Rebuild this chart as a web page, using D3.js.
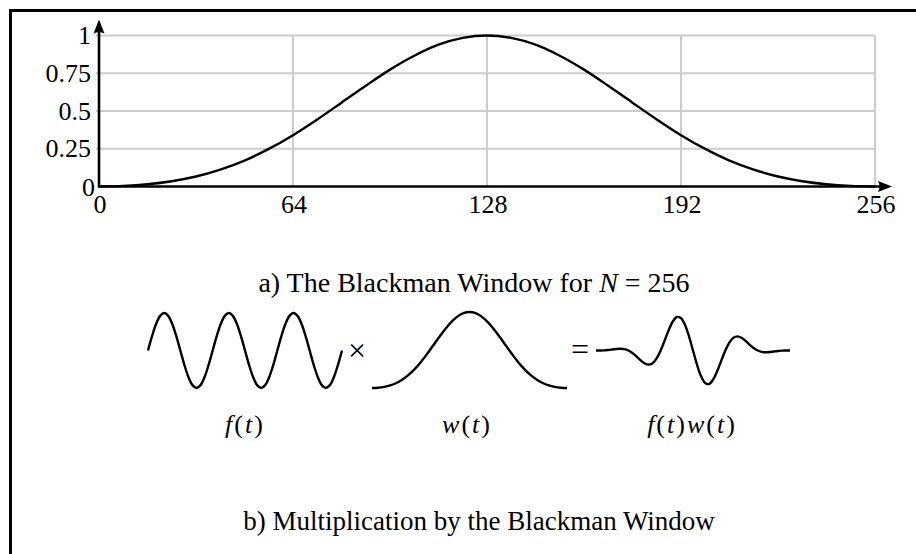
<!DOCTYPE html>
<html>
<head>
<meta charset="utf-8">
<script src="https://cdn.jsdelivr.net/npm/d3@7"></script>
<style>
  html, body { margin: 0; padding: 0; background: #fff; }
  svg { display: block; }
  text { font-family: "Liberation Serif", "DejaVu Serif", serif; fill: #000; }
</style>
</head>
<body>
<svg id="fig" width="916" height="554"></svg>
<script>
// ---- data -------------------------------------------------------------
// Blackman window, N = 256, sampled every 8 samples (n = 0, 8, ..., 256)
const windowN = [0, 8, 16, 24, 32, 40, 48, 56, 64, 72, 80, 88, 96, 104, 112, 120, 128,
                 136, 144, 152, 160, 168, 176, 184, 192, 200, 208, 216, 224, 232, 240, 248, 256];
const windowValues = [0.000, 0.004, 0.015, 0.035, 0.066, 0.112, 0.172, 0.249, 0.340,
                      0.444, 0.555, 0.667, 0.774, 0.866, 0.939, 0.984, 1.000,
                      0.984, 0.939, 0.866, 0.774, 0.667, 0.555, 0.444, 0.340,
                      0.249, 0.172, 0.112, 0.066, 0.035, 0.015, 0.004, 0.000];

const xTicks = [0, 64, 128, 192, 256];
const yTicks = [0, 0.25, 0.5, 0.75, 1];
const yTickLabels = ["0", "0.25", "0.5", "0.75", "1"];

// Sketch signals on t in [0, 1], 49 samples (step 1/48)
const sketchT = d3.range(49).map(k => k / 48);
const signalF = [0, 0.383, 0.707, 0.924, 1, 0.924, 0.707, 0.383,
                 0, -0.383, -0.707, -0.924, -1, -0.924, -0.707, -0.383,
                 0, 0.383, 0.707, 0.924, 1, 0.924, 0.707, 0.383,
                 0, -0.383, -0.707, -0.924, -1, -0.924, -0.707, -0.383,
                 0, 0.383, 0.707, 0.924, 1, 0.924, 0.707, 0.383,
                 0, -0.383, -0.707, -0.924, -1, -0.924, -0.707, -0.383, 0];
const signalFW = [0, 0.001, 0.004, 0.014, 0.027, 0.041, 0.047, 0.036,
                  0, -0.066, -0.156, -0.256, -0.340, -0.377, -0.340, -0.212,
                  0, 0.269, 0.547, 0.774, 0.893, 0.867, 0.687, 0.380,
                  0, -0.380, -0.687, -0.867, -0.893, -0.774, -0.547, -0.269,
                  0, 0.212, 0.340, 0.377, 0.340, 0.256, 0.156, 0.066,
                  0, -0.036, -0.047, -0.041, -0.027, -0.014, -0.004, -0.001, 0];

const captionA = ["a) The Blackman Window for ", "N", " = 256"];
const captionB = "b) Multiplication by the Blackman Window";

// ---- drawing ----------------------------------------------------------
const svg = d3.select("#fig");

// outer frame (only top and left edges fall inside the page)
svg.append("rect")
  .attr("x", 10.5).attr("y", 10.5).attr("width", 1000).attr("height", 1000)
  .attr("fill", "none").attr("stroke", "#000").attr("stroke-width", 3);

const x = d3.scaleLinear().domain([0, 256]).range([99, 875]);
const y = d3.scaleLinear().domain([0, 1]).range([186.5, 35.5]);

const grid = svg.append("g").attr("stroke", "#cccccc").attr("stroke-width", 2);
grid.selectAll("line.h").data(yTicks.filter(v => v > 0)).join("line")
  .attr("class", "h")
  .attr("x1", x(0) - 3).attr("x2", x(256))
  .attr("y1", d => y(d)).attr("y2", d => y(d));
grid.selectAll("line.v").data(xTicks.filter(v => v > 0)).join("line")
  .attr("class", "v")
  .attr("x1", d => x(d)).attr("x2", d => x(d))
  .attr("y1", y(1)).attr("y2", y(0));

// window curve
const line = d3.line()
  .x((d, i) => x(windowN[i]))
  .y(d => y(d))
  .curve(d3.curveCatmullRom.alpha(0.5));
svg.append("path")
  .datum(windowValues)
  .attr("d", line)
  .attr("fill", "none").attr("stroke", "#000").attr("stroke-width", 2.4);

// axes with arrow heads
const ax = svg.append("g");
const xEnd = x(256) + 17, yEnd = y(1) - 16;
ax.append("line").attr("x1", x(0)).attr("x2", xEnd - 8).attr("y1", y(0)).attr("y2", y(0))
  .attr("stroke", "#000").attr("stroke-width", 2.6);
ax.append("line").attr("x1", x(0)).attr("x2", x(0)).attr("y1", y(0) + 1.3).attr("y2", yEnd + 8)
  .attr("stroke", "#000").attr("stroke-width", 2.6);
ax.append("path")
  .attr("d", `M${xEnd},${y(0)} L${xEnd - 14},${y(0) - 5.5} Q${xEnd - 11},${y(0)} ${xEnd - 14},${y(0) + 5.5} Z`)
  .attr("fill", "#000");
ax.append("path")
  .attr("d", `M${x(0)},${yEnd} L${x(0) - 5.5},${yEnd + 14} Q${x(0)},${yEnd + 11} ${x(0) + 5.5},${yEnd + 14} Z`)
  .attr("fill", "#000");

// tick labels
svg.append("g").selectAll("text").data(xTicks).join("text")
  .attr("x", d => x(d) + 1).attr("y", 213)
  .attr("text-anchor", "middle").attr("font-size", 26)
  .text(d => d);
svg.append("g").selectAll("text").data(yTicks).join("text")
  .attr("x", d => d === 0 ? 95 : 91)
  .attr("y", d => y(d) + (d === 0 ? 9 : 8.5))
  .attr("text-anchor", "end").attr("font-size", 26)
  .text((d, i) => yTickLabels[i]);

// caption a)
const capA = svg.append("text").attr("x", 474).attr("y", 292)
  .attr("text-anchor", "middle").attr("font-size", 28);
capA.selectAll("tspan").data(captionA).join("tspan")
  .attr("font-style", (d, i) => i === 1 ? "italic" : "normal")
  .text(d => d);

// ---- sketches: f(t) x w(t) = f(t)w(t) ----
const sx1 = d3.scaleLinear().domain([0, 1]).range([148, 342]);
const sx2 = d3.scaleLinear().domain([0, 1]).range([372, 567]);
const sx3 = d3.scaleLinear().domain([0, 1]).range([596, 790]);
const sy = d3.scaleLinear().domain([-1, 1]).range([388, 313]);
const wy = d3.scaleLinear().domain([0, 1]).range([388, 312]);

const smooth = d3.curveCatmullRom.alpha(0.5);
svg.append("path").datum(signalF)
  .attr("d", d3.line().x((d, i) => sx1(sketchT[i])).y(d => sy(d)).curve(smooth))
  .attr("fill", "none").attr("stroke", "#000").attr("stroke-width", 2.4);
svg.append("path").datum(windowValues)
  .attr("d", d3.line().x((d, i) => sx2(windowN[i] / 256)).y(d => wy(d)).curve(smooth))
  .attr("fill", "none").attr("stroke", "#000").attr("stroke-width", 2.4);
svg.append("path").datum(signalFW)
  .attr("d", d3.line().x((d, i) => sx3(sketchT[i])).y(d => sy(d)).curve(smooth))
  .attr("fill", "none").attr("stroke", "#000").attr("stroke-width", 2.4);

svg.append("text").attr("x", 357).attr("y", 361).attr("text-anchor", "middle")
  .attr("font-size", 32).text("×");
svg.append("text").attr("x", 580).attr("y", 360).attr("text-anchor", "middle")
  .attr("font-size", 32).text("=");

const labels = [
  { cx: 245, parts: [["f", 1], ["(", 0], ["t", 1], [")", 0]] },
  { cx: 467, parts: [["w", 1], ["(", 0], ["t", 1], [")", 0]] },
  { cx: 692, parts: [["f", 1], ["(", 0], ["t", 1], [")", 0], ["w", 1], ["(", 0], ["t", 1], [")", 0]] }
];
labels.forEach(l => {
  const t = svg.append("text").attr("x", l.cx).attr("y", 433)
    .attr("text-anchor", "middle").attr("font-size", 26)
    .attr("letter-spacing", 2);
  t.selectAll("tspan").data(l.parts).join("tspan")
    .attr("font-style", d => d[1] ? "italic" : "normal")
    .text(d => d[0]);
});

// caption b)
svg.append("text").attr("x", 479).attr("y", 530)
  .attr("text-anchor", "middle").attr("font-size", 27)
  .text(captionB);
</script>
</body>
</html>
